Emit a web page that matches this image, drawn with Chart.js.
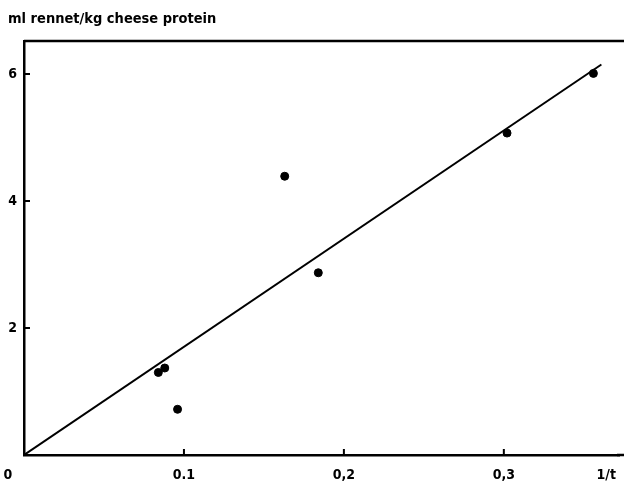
<!DOCTYPE html>
<html>
<head>
<meta charset="utf-8">
<script src="https://cdn.jsdelivr.net/npm/chart.js@4/dist/chart.umd.min.js"></script>
<style>
  html, body { margin: 0; padding: 0; background: #fff; }
  #wrap { width: 624px; height: 484px; }
</style>
</head>
<body>
<div id="wrap"><canvas id="chart" width="624" height="484"></canvas></div>
<script>
'use strict';

/* data */
const invT      = [0.084, 0.088, 0.096, 0.163, 0.184, 0.302, 0.356];
const rennet    = [1.30, 1.37, 0.72, 4.39, 2.87, 5.07, 6.01];
const fitX      = [0, 0.361];
const fitY      = [0, 6.15];
const yTicks    = [2, 4, 6];
const xTicks    = [0.1, 0.2, 0.3];
const xLabels   = ['0.1', '0,2', '0,3'];
const yTitle    = 'ml rennet/kg cheese protein';
const xTitle    = '1/t';

const FONT = '"DejaVu Sans Condensed", "Liberation Sans Narrow", sans-serif';

/* top frame line, inward ticks, x labels and titles */
const decor = {
  id: 'decor',
  afterDraw(chart) {
    const { ctx, chartArea: a, scales: { x, y } } = chart;
    ctx.save();
    ctx.strokeStyle = '#000';
    ctx.lineWidth = 2.5;
    ctx.beginPath();
    ctx.moveTo(a.left, a.top);
    ctx.lineTo(chart.width, a.top);
    ctx.moveTo(a.right - 2, a.bottom);
    ctx.lineTo(chart.width, a.bottom);
    ctx.stroke();

    ctx.lineWidth = 2;
    ctx.beginPath();
    xTicks.forEach(v => {
      const px = x.getPixelForValue(v);
      ctx.moveTo(px, a.bottom);
      ctx.lineTo(px, a.bottom - 6);
    });
    yTicks.forEach(v => {
      const py = y.getPixelForValue(v);
      ctx.moveTo(a.left, py);
      ctx.lineTo(a.left + 6, py);
    });
    ctx.stroke();

    ctx.fillStyle = '#000';
    ctx.font = 'bold 14px ' + FONT;
    ctx.textBaseline = 'middle';
    ctx.textAlign = 'center';
    const ly = a.bottom + 20;
    ctx.fillText('0', x.getPixelForValue(0) - 16, ly);
    xTicks.forEach((v, i) => ctx.fillText(xLabels[i], x.getPixelForValue(v), ly));
    ctx.fillText(xTitle, x.getPixelForValue(0.364), ly);

    ctx.textAlign = 'left';
    ctx.font = 'bold 14.5px ' + FONT;
    ctx.fillText(yTitle, 8, 19);
    ctx.restore();
  }
};

new Chart(document.getElementById('chart'), {
  type: 'scatter',
  data: {
    datasets: [
      {
        label: 'fit',
        data: fitX.map((v, i) => ({ x: v, y: fitY[i] })),
        showLine: true,
        borderColor: '#000',
        borderWidth: 2,
        pointRadius: 0,
        fill: false
      },
      {
        label: 'points',
        data: invT.map((v, i) => ({ x: v, y: rennet[i] })),
        backgroundColor: '#000',
        borderColor: '#000',
        pointRadius: 4,
        pointHoverRadius: 4
      }
    ]
  },
  options: {
    responsive: false,
    animation: false,
    layout: { padding: { top: 41, right: 0, left: 0, bottom: 0 } },
    plugins: { legend: { display: false }, tooltip: { enabled: false }, title: { display: false } },
    scales: {
      x: {
        type: 'linear',
        min: 0, max: 0.372,
        grid: { display: false },
        border: { display: true, color: '#000', width: 2.5 },
        ticks: { display: false },
        afterFit: s => { s.height = 29; }
      },
      y: {
        type: 'linear',
        min: 0, max: 6.52,
        grid: { display: false, drawTicks: false },
        border: { display: true, color: '#000', width: 2.5 },
        afterBuildTicks: s => { s.ticks = yTicks.map(v => ({ value: v })); },
        ticks: {
          color: '#000',
          padding: 7,
          font: { family: FONT, size: 14, weight: 'bold' },
          callback: v => String(v)
        },
        afterFit: s => { s.width = 24; }
      }
    }
  },
  plugins: [decor]
});
</script>
</body>
</html>
